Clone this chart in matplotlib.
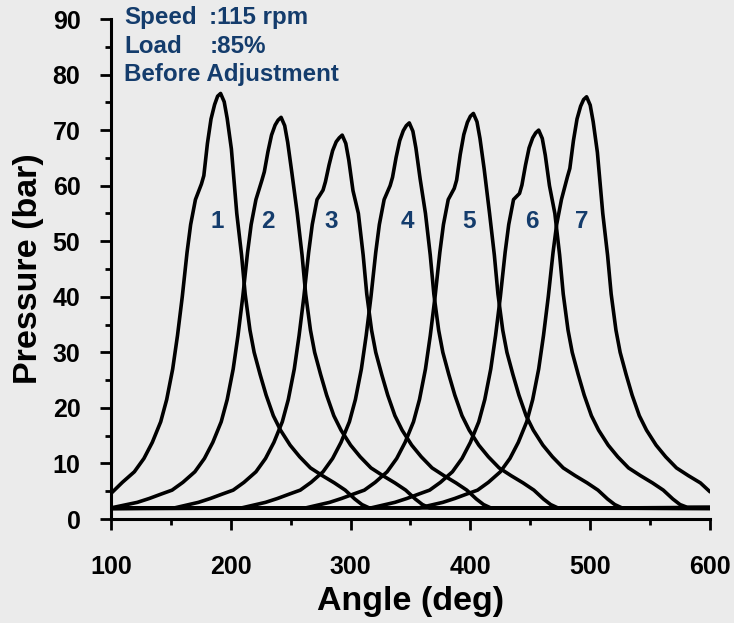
import matplotlib
matplotlib.use("Agg")
import matplotlib.pyplot as plt
from matplotlib.ticker import MultipleLocator

plt.rcParams['font.family'] = ['Liberation Sans', 'DejaVu Sans']
plt.rcParams['font.weight'] = 'bold'

# cylinder pressure traces (angle in deg, pressure in bar)
ang1 = [100, 109.5, 119.5, 127.5, 134.5, 141.5, 146.5, 151.5, 155.5, 159.5, 163.5, 166.5,
        170.5, 175.5, 177.5, 180.5, 183.5, 186.5, 189, 191.5, 194.5, 197, 200.5, 205, 209,
        212, 216, 219.5, 224.5, 229.5, 235.5, 241.5, 249.5, 257.5, 266.5, 276.5, 286.5,
        295.5, 303.5, 309.5, 315.5, 600]
p1 = [4.6, 6.6, 8.5, 10.9, 13.8, 17.5, 21.5, 27, 33, 40, 48, 53,
      57.5, 60.3, 61.8, 67.6, 72.0, 74.6, 76.1, 76.6, 75.1, 72.1, 66.6, 55, 47.5,
      40.5, 34, 30, 26, 22.3, 18.6, 16, 13.3, 11.2, 9.2, 7.8, 6.5,
      5.2, 3.6, 2.6, 2.0, 2.0]

ang2 = [100, 122, 132, 142, 151, 160, 170, 178, 185, 192, 197, 202, 206, 210, 214, 217,
        221, 226, 228, 231, 234, 237, 239.5, 242, 245, 247.5, 251, 255.5, 259.5, 262.5,
        266.5, 270, 275, 280, 286, 292, 300, 308, 317, 327, 337, 346, 354, 360, 366, 600]
p2 = [2.0, 3.0, 3.7, 4.5, 5.2, 6.6, 8.5, 10.9, 13.8, 17.5, 21.5, 27, 33, 40, 48, 53,
      57.5, 61, 62.5, 66.1, 69.1, 70.9, 71.8, 72.3, 70.8, 67.8, 62.3, 55, 47.5, 40.5,
      34, 30, 26, 22.3, 18.6, 16, 13.3, 11.2, 9.2, 7.8, 6.5, 5.2, 3.6, 2.6, 2.0, 1.9]

ang3 = [100, 153, 173, 183, 193, 202, 211, 221, 229, 236, 243, 248, 253, 257, 261, 265,
        268, 272, 277, 279, 282, 285, 288, 290.5, 293, 296, 298.5, 302, 306.5, 310.5,
        313.5, 317.5, 321, 326, 331, 337, 343, 351, 359, 368, 378, 388, 397, 405, 411,
        417, 600]
p3 = [1.9, 2.0, 3.0, 3.7, 4.5, 5.2, 6.6, 8.5, 10.9, 13.8, 17.5, 21.5, 27, 33, 40, 48,
      53, 57.5, 59.2, 60.7, 63.7, 66.3, 67.9, 68.6, 69.1, 67.6, 64.6, 59.1, 55, 47.5,
      40.5, 34, 30, 26, 22.3, 18.6, 16, 13.3, 11.2, 9.2, 7.8, 6.5, 5.2, 3.6, 2.6,
      2.0, 2.0]

ang4 = [100, 209, 229, 239, 249, 258, 267, 277, 285, 292, 299, 304, 309, 313, 317, 321,
        324, 328, 333, 335, 338, 341, 344, 346.5, 349, 352, 354.5, 358, 362.5, 366.5,
        369.5, 373.5, 377, 382, 387, 393, 399, 407, 415, 424, 434, 444, 453, 461, 467,
        473, 600]
p4 = [2.0, 2.0, 3.0, 3.7, 4.5, 5.2, 6.6, 8.5, 10.9, 13.8, 17.5, 21.5, 27, 33, 40, 48,
      53, 57.5, 60, 61.5, 65.1, 68.1, 69.9, 70.8, 71.3, 69.8, 66.8, 61.3, 55, 47.5,
      40.5, 34, 30, 26, 22.3, 18.6, 16, 13.3, 11.2, 9.2, 7.8, 6.5, 5.2, 3.6, 2.6,
      2.0, 1.9]

ang5 = [100, 262.5, 282.5, 292.5, 302.5, 311.5, 320.5, 330.5, 338.5, 345.5, 352.5, 357.5,
        362.5, 366.5, 370.5, 374.5, 377.5, 381.5, 386.5, 388.5, 391.5, 394.5, 397.5, 400,
        402.5, 405.5, 408, 411.5, 416, 420, 423, 427, 430.5, 435.5, 440.5, 446.5, 452.5,
        460.5, 468.5, 477.5, 487.5, 497.5, 506.5, 514.5, 520.5, 526.5, 600]
p5 = [1.9, 2.0, 3.0, 3.7, 4.5, 5.2, 6.6, 8.5, 10.9, 13.8, 17.5, 21.5,
      27, 33, 40, 48, 53, 57.5, 59.5, 61, 65.6, 69.2, 71.4, 72.5,
      73, 71.5, 68.5, 63, 55, 47.5, 40.5, 34, 30, 26, 22.3, 18.6, 16,
      13.3, 11.2, 9.2, 7.8, 6.5, 5.2, 3.6, 2.6, 2.0, 2.1]

ang6 = [100, 317, 337, 347, 357, 366, 375, 385, 393, 400, 407, 412, 417, 421, 425, 429,
        432, 436, 441, 443, 446, 449, 452, 454.5, 457, 460, 462.5, 466, 470.5, 474.5,
        477.5, 481.5, 485, 490, 495, 501, 507, 515, 523, 532, 542, 552, 561, 569, 575,
        581, 600]
p6 = [2.0, 2.0, 3.0, 3.7, 4.5, 5.2, 6.6, 8.5, 10.9, 13.8, 17.5, 21.5, 27, 33, 40, 48,
      53, 57.5, 58.6, 60.1, 63.7, 66.8, 68.6, 69.5, 70, 68.5, 65.5, 60, 55, 47.5,
      40.5, 34, 30, 26, 22.3, 18.6, 16, 13.3, 11.2, 9.2, 7.8, 6.5, 5.2, 3.6, 2.6,
      2.1, 2.1]

ang7 = [100, 357, 377, 387, 397, 406, 415, 425, 433, 440, 447, 452, 457, 461, 465, 469,
        472, 476, 481, 483, 486, 489, 492, 494.5, 497, 500, 502.5, 506, 510.5, 514.5,
        517.5, 521.5, 525, 530, 535, 541, 547, 555, 563, 572, 582, 592, 600]
p7 = [1.9, 2.0, 3.0, 3.7, 4.5, 5.2, 6.6, 8.5, 10.9, 13.8, 17.5, 21.5, 27, 33, 40, 48,
      53, 57.5, 61.6, 63.1, 68.1, 72.0, 74.3, 75.5, 76, 74.5, 71.5, 66, 55, 47.5,
      40.5, 34, 30, 26, 22.3, 18.6, 16, 13.3, 11.2, 9.2, 7.8, 6.5, 4.9]

curve_labels = ['1', '2', '3', '4', '5', '6', '7']
label_x = [189, 231, 284, 347, 399, 451, 493]
label_y = 53.5

blue = '#143c6c'

fig = plt.figure(figsize=(7.34, 6.23), dpi=100)
fig.patch.set_facecolor('#ebebeb')
ax = fig.add_axes([0.1512, 0.1669, 0.8161, 0.8026])
ax.set_facecolor('#ebebeb')

for a, p in [(ang1, p1), (ang2, p2), (ang3, p3), (ang4, p4),
             (ang5, p5), (ang6, p6), (ang7, p7)]:
    ax.plot(a, p, color='black', lw=2.6, solid_joinstyle='round', solid_capstyle='round')

for lab, x in zip(curve_labels, label_x):
    ax.text(x, label_y, lab, color=blue, fontsize=17.5, fontweight='bold',
            ha='center', va='center')

# operating conditions
fs_note = 17.4
ax.text(111, 90.2, 'Speed', color=blue, fontsize=fs_note, fontweight='bold', va='center', clip_on=False)
ax.text(182, 90.2, ':115 rpm', color=blue, fontsize=fs_note, fontweight='bold', va='center', clip_on=False)
ax.text(111, 85.1, 'Load', color=blue, fontsize=fs_note, fontweight='bold', va='center')
ax.text(182, 85.1, ':85%', color=blue, fontsize=fs_note, fontweight='bold', va='center')
ax.text(111, 80.1, 'Before Adjustment', color=blue, fontsize=fs_note, fontweight='bold', va='center')

ax.set_xlim(100, 600)
ax.set_ylim(0, 90)
ax.xaxis.set_major_locator(MultipleLocator(100))
ax.xaxis.set_minor_locator(MultipleLocator(50))
ax.yaxis.set_major_locator(MultipleLocator(10))
ax.yaxis.set_minor_locator(MultipleLocator(5))

for s in ['top', 'right']:
    ax.spines[s].set_visible(False)
for s in ['left', 'bottom']:
    ax.spines[s].set_linewidth(2.2)

ax.tick_params(which='major', direction='out', length=8, width=2.0, labelsize=18)
ax.tick_params(which='minor', direction='out', length=4.5, width=2.0)
ax.tick_params(axis='x', which='major', pad=18)
ax.tick_params(axis='y', which='major', pad=14)
for t in ax.get_xticklabels() + ax.get_yticklabels():
    t.set_fontweight('bold')

ax.set_xlabel('Angle (deg)', fontsize=24.5, fontweight='bold', labelpad=5)
ax.set_ylabel('Pressure (bar)', fontsize=24.5, fontweight='bold', labelpad=6)

fig.savefig('out.png', dpi=100, facecolor=fig.get_facecolor())
